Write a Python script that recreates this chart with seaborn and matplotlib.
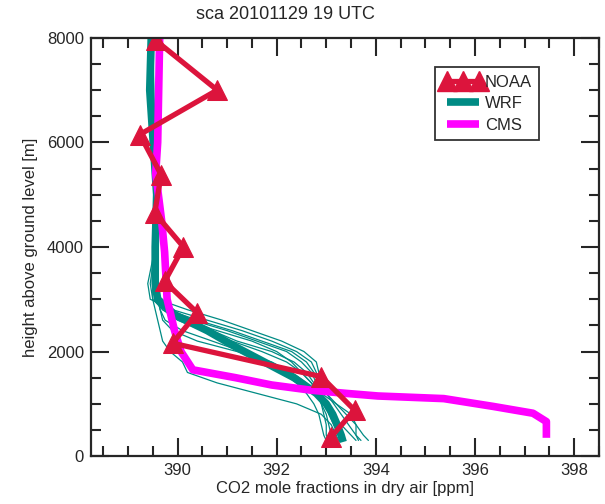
import matplotlib
matplotlib.use("Agg")
import matplotlib.pyplot as plt
from matplotlib.lines import Line2D
from matplotlib.ticker import MultipleLocator
import seaborn as sns
import pandas as pd

# Messungen NOAA (Flugzeugprofil)
noaa_co2 = [389.56, 390.80, 389.24, 389.67, 389.54, 390.12, 389.74, 390.40, 389.90, 392.90, 393.57, 393.10]
noaa_hgt = [7950, 7000, 6150, 5380, 4650, 4000, 3340, 2740, 2160, 1520, 880, 370]

# CMS Profil
cms_co2 = [389.64, 389.62, 389.60, 389.56, 389.68, 389.74, 389.79, 389.94, 390.07, 390.31,
           391.17, 391.90, 392.70, 393.40, 394.04, 395.37, 396.37, 397.17, 397.44, 397.44]
cms_hgt = [8000, 7000, 6000, 5400, 4500, 3900, 3000, 2400, 2000, 1650,
           1500, 1360, 1260, 1200, 1150, 1100, 950, 820, 660, 350]

# WRF Ensemblemittel
wrf_co2 = [389.47, 389.44, 389.51, 389.58, 389.55, 389.55, 389.60, 389.95, 390.60, 391.15,
           391.75, 392.35, 392.80, 393.00, 393.13, 393.22, 393.30, 393.34]
wrf_hgt = [8000, 7000, 6000, 5000, 4000, 3300, 3000, 2700, 2400, 2100,
           1800, 1500, 1200, 1000, 800, 600, 400, 270]

# WRF Ensemblemitglieder
mem_hgt = [8000, 6000, 4000, 3300, 3000, 2800, 2600, 2400, 2200, 2000,
           1800, 1600, 1400, 1200, 1000, 800, 600, 400, 300]
mem_01 = [389.50, 389.50, 389.55, 389.50, 389.60, 390.20, 390.90, 391.50, 392.10, 392.55,
          392.80, 392.85, 392.90, 393.00, 393.20, 393.40, 393.60, 393.75, 393.85]
mem_02 = [389.50, 389.50, 389.55, 389.40, 389.45, 389.90, 390.60, 391.30, 391.90, 392.40,
          392.70, 392.80, 392.85, 392.90, 393.00, 393.10, 393.30, 393.50, 393.60]
mem_03 = [389.45, 389.50, 389.55, 389.50, 389.55, 389.80, 390.30, 391.00, 391.60, 392.20,
          392.50, 392.70, 392.80, 392.90, 393.00, 393.05, 393.15, 393.25, 393.30]
mem_04 = [389.50, 389.50, 389.60, 389.55, 389.60, 389.70, 390.00, 390.50, 391.10, 391.70,
          392.20, 392.50, 392.70, 392.80, 392.95, 393.10, 393.20, 393.30, 393.35]
mem_05 = [389.50, 389.50, 389.55, 389.50, 389.50, 389.55, 389.60, 389.65, 389.70, 389.85,
          390.10, 390.20, 390.80, 391.60, 392.40, 392.90, 393.10, 393.20, 393.25]
mem_06 = [389.50, 389.50, 389.60, 389.55, 389.60, 389.65, 389.70, 389.90, 390.40, 391.20,
          391.90, 392.30, 392.60, 392.80, 392.90, 393.00, 393.05, 393.10, 393.15]
mem_07 = [389.50, 389.50, 389.55, 389.45, 389.50, 389.70, 390.10, 390.80, 391.50, 392.00,
          392.30, 392.50, 392.70, 392.90, 393.20, 393.50, 393.60, 393.60, 393.65]
mem_08 = [389.45, 389.50, 389.60, 389.50, 389.55, 389.75, 390.20, 390.70, 391.20, 391.90,
          392.35, 392.60, 392.75, 392.85, 392.90, 392.95, 393.00, 393.00, 393.05]
mem_09 = [389.50, 389.50, 389.55, 389.50, 389.60, 389.65, 389.75, 390.10, 390.70, 391.30,
          391.80, 392.10, 392.40, 392.60, 392.75, 392.85, 392.90, 392.95, 393.00]
mem_10 = [389.50, 389.55, 389.55, 389.50, 389.55, 389.80, 390.40, 391.10, 391.70, 392.30,
          392.60, 392.75, 392.85, 393.00, 393.15, 393.30, 393.45, 393.60, 393.70]
members = [mem_01, mem_02, mem_03, mem_04, mem_05, mem_06, mem_07, mem_08, mem_09, mem_10]

c_noaa = "#DC143C"
c_wrf = "#008B84"
c_cms = "#FF00FF"

sns.set_style("ticks")
plt.rcParams["font.family"] = ["Liberation Sans", "DejaVu Sans"]

fig = plt.figure(figsize=(6.05, 5.04), dpi=100)
ax = fig.add_axes([0.150, 0.095, 0.840, 0.830])

df_mem = pd.concat([pd.DataFrame({"co2": m, "hgt": mem_hgt, "mem": i}) for i, m in enumerate(members)])
for i, sub in df_mem.groupby("mem"):
    sns.lineplot(data=sub, x="co2", y="hgt", sort=False, estimator=None, ax=ax,
                 color=c_wrf, lw=0.9, legend=False)

sns.lineplot(x=wrf_co2, y=wrf_hgt, sort=False, estimator=None, ax=ax, color=c_wrf, lw=5.5,
             solid_capstyle="butt")
sns.lineplot(x=cms_co2, y=cms_hgt, sort=False, estimator=None, ax=ax, color=c_cms, lw=5.5,
             solid_capstyle="butt")
sns.lineplot(x=noaa_co2, y=noaa_hgt, sort=False, estimator=None, ax=ax, color=c_noaa, lw=3.8,
             marker="^", markersize=15, markeredgecolor=c_noaa, solid_capstyle="butt")

ax.set_xlim(388.25, 398.5)
ax.set_ylim(0, 8000)
ax.xaxis.set_major_locator(MultipleLocator(2))
ax.xaxis.set_minor_locator(MultipleLocator(0.5))
ax.yaxis.set_major_locator(MultipleLocator(2000))
ax.yaxis.set_minor_locator(MultipleLocator(500))
ax.tick_params(which="both", direction="in", top=True, right=True, width=1.5, labelsize=12, pad=5)
ax.tick_params(which="major", length=13)
ax.tick_params(which="minor", length=7)
for sp in ax.spines.values():
    sp.set_linewidth(1.6)

ax.set_xlabel("CO2 mole fractions in dry air [ppm]", fontsize=12, labelpad=2)
ax.set_ylabel("height above ground level [m]", fontsize=12, labelpad=6)
fig.text(0.471, 0.972, "sca 20101129 19 UTC", ha="center", va="center", fontsize=13)

handles = [
    Line2D([], [], color=c_noaa, lw=3.8, marker="^", markersize=15, solid_capstyle="butt"),
    Line2D([], [], color=c_wrf, lw=5.5, solid_capstyle="butt"),
    Line2D([], [], color=c_cms, lw=5.5, solid_capstyle="butt"),
]
leg = ax.legend(handles, ["NOAA", "WRF", "CMS"], loc="upper left", bbox_to_anchor=(0.677, 0.93),
                numpoints=3, handlelength=2.5, handletextpad=0.05, borderpad=0.45,
                labelspacing=0.4, fontsize=12, frameon=True, fancybox=False,
                borderaxespad=0)
leg.get_frame().set_edgecolor("black")
leg.get_frame().set_linewidth(1.3)

fig.savefig("out.png", dpi=100)
